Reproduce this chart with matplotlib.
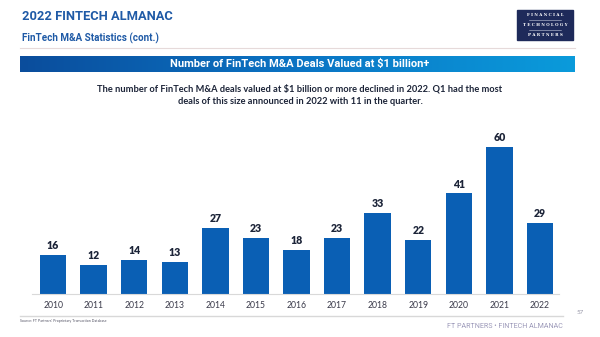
import numpy as np
import matplotlib
matplotlib.use("Agg")
import matplotlib.pyplot as plt
from matplotlib.patches import Rectangle
from matplotlib.colors import LinearSegmentedColormap

years = ["2010", "2011", "2012", "2013", "2014", "2015", "2016",
         "2017", "2018", "2019", "2020", "2021", "2022"]
deals = [16, 12, 14, 13, 27, 23, 18, 23, 33, 22, 41, 60, 29]

W, H = 600, 337
fig = plt.figure(figsize=(W / 100, H / 100), dpi=100)
fig.patch.set_facecolor("white")


def fx(px):
    return px / W


def fy(py):
    return 1 - py / H


BLUE = "#1f5aa6"
BAR = "#0a5fb4"
DARK = "#1c2438"

# Header
fig.text(fx(22), fy(17), "2022 FINTECH ALMANAC", family="Roboto", weight="bold",
         fontsize=9.3, color=BLUE, va="center", ha="left")
fig.text(fx(22), fy(38), "FinTech M&A Statistics (cont.)", family="Roboto",
         weight="bold", fontsize=7.1, color=BLUE, va="center", ha="left")
fig.add_artist(plt.Line2D([fx(20), fx(575)], [fy(47.5), fy(47.5)],
                          color="#e6dada", lw=0.8))

# Logo block
fig.add_artist(Rectangle((fx(517), fy(40)), fx(56), 30 / H, color="#1e2a5a"))
for txt, yy in [("F I N A N C I A L", 14.5), ("T E C H N O L O G Y", 24.5),
                ("P A R T N E R S", 34.5)]:
    fig.text(fx(545), fy(yy), txt, family="DejaVu Serif", weight="bold",
             fontsize=2.9, color="white", ha="center", va="center")
for yy in [19.5, 29.5]:
    fig.add_artist(plt.Line2D([fx(529), fx(561)], [fy(yy), fy(yy)],
                              color="#c8cce0", lw=0.4))

# Gradient banner
bax = fig.add_axes([fx(20), fy(72), fx(555), 16 / H])
grad = np.linspace(0, 1, 256).reshape(1, -1)
cmap = LinearSegmentedColormap.from_list("band", ["#0b4d9c", "#0a74c4", "#0a9bdb"])
bax.imshow(grad, aspect="auto", cmap=cmap, extent=[0, 1, 0, 1])
bax.set_axis_off()
fig.text(fx(300), fy(64), "Number of FinTech M&A Deals Valued at $1 billion+",
         family="Roboto", weight="bold", fontsize=8, color="white",
         ha="center", va="center")

# Description
fig.text(fx(300), fy(88.5),
         "The number of FinTech M&A deals valued at $1 billion or more declined in 2022. Q1 had the most",
         family="Lato", weight="bold", fontsize=6.7, color=DARK, ha="center", va="center")
fig.text(fx(300), fy(102),
         "deals of this size announced in 2022 with 11 in the quarter.",
         family="Lato", weight="bold", fontsize=6.7, color=DARK, ha="center", va="center")

# Bar chart
ax = fig.add_axes([fx(32), fy(294), fx(527), (294 - 130) / H])
x = np.arange(len(years))
ax.bar(x, deals, width=0.65, color=BAR, zorder=2)
for xi, v in zip(x, deals):
    ax.text(xi, v + 1.5, str(v), ha="center", va="bottom", family="Lato",
            weight="heavy", fontsize=7.6, color=DARK)
ax.set_xlim(-0.52, 12.47)
ax.set_ylim(0, 66.9)
ax.set_xticks(x)
ax.set_xticklabels(years, family="Lato", fontsize=6.2, color="#3a3a4a")
ax.tick_params(axis="x", length=0, pad=5)
ax.set_yticks([])
for s in ["top", "right", "left"]:
    ax.spines[s].set_visible(False)
ax.spines["bottom"].set_color("#d9d9d9")
ax.spines["bottom"].set_linewidth(0.8)
ax.set_facecolor("none")

# Footer
fig.add_artist(plt.Line2D([fx(20), fx(563)], [fy(316), fy(316)],
                          color="#d8d8d8", lw=1.0))
fig.text(fx(20), fy(321), "Source: FT Partners' Proprietary Transaction Database",
         family="Lato", fontsize=2.6, color="#555566", ha="left", va="center")
fig.text(fx(580), fy(313), "57", family="Lato", fontsize=4.5, color="#9a9aaa",
         ha="center", va="center")
fig.text(fx(563), fy(327), "FT PARTNERS \u2022 FINTECH ALMANAC", family="Roboto",
         fontsize=5.1, color="#9b98b8", ha="right", va="center")

fig.savefig("out.png", dpi=100, facecolor="white")
